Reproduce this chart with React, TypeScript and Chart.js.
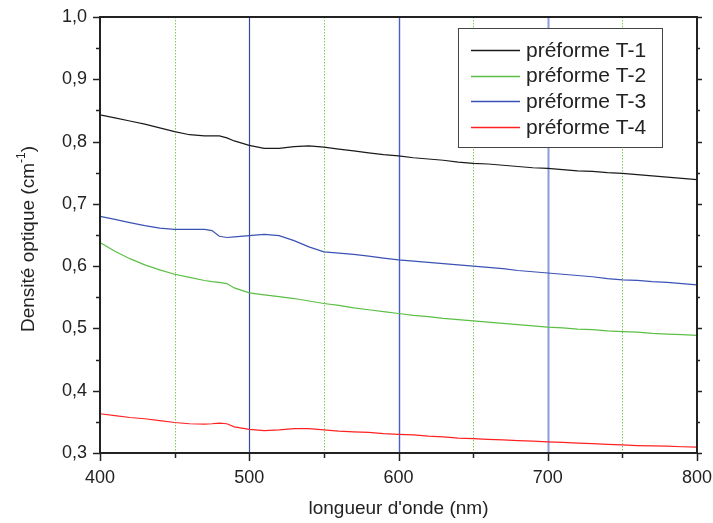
import React, { useEffect, useRef } from 'react';
import { Chart, registerables } from 'chart.js';

Chart.register(...registerables);

// ---- data ----
const wavelengths = [
  400, 410, 420, 430, 440, 450, 460, 470, 475, 480, 485, 490, 500, 510, 520, 530, 540, 550,
  560, 570, 580, 590, 600, 610, 620, 630, 640, 650, 660, 670, 680, 690, 700, 710, 720, 730,
  740, 750, 760, 770, 780, 790, 800,
];

const preformeT1 = [
  0.843, 0.838, 0.833, 0.828, 0.822, 0.816, 0.811, 0.809, 0.809, 0.809, 0.806, 0.801, 0.794,
  0.789, 0.789, 0.792, 0.793, 0.791, 0.788, 0.785, 0.782, 0.779, 0.777, 0.774, 0.772, 0.770,
  0.767, 0.765, 0.764, 0.762, 0.760, 0.758, 0.757, 0.755, 0.753, 0.752, 0.750, 0.749, 0.747,
  0.745, 0.743, 0.741, 0.739,
];

const preformeT2 = [
  0.638, 0.624, 0.612, 0.602, 0.594, 0.587, 0.582, 0.577, 0.575, 0.574, 0.572, 0.565, 0.557,
  0.554, 0.551, 0.548, 0.544, 0.540, 0.537, 0.533, 0.530, 0.527, 0.524, 0.521, 0.519, 0.516,
  0.514, 0.512, 0.510, 0.508, 0.506, 0.504, 0.502, 0.501, 0.499, 0.498, 0.496, 0.495, 0.494,
  0.492, 0.491, 0.490, 0.489,
];

const preformeT3 = [
  0.680, 0.675, 0.670, 0.665, 0.661, 0.659, 0.659, 0.659, 0.657, 0.648, 0.646, 0.647, 0.649,
  0.651, 0.649, 0.641, 0.631, 0.623, 0.621, 0.619, 0.616, 0.613, 0.610, 0.608, 0.606, 0.604,
  0.602, 0.600, 0.598, 0.596, 0.593, 0.591, 0.589, 0.587, 0.585, 0.583, 0.580, 0.578, 0.577,
  0.575, 0.574, 0.572, 0.570,
];

const preformeT4 = [
  0.363, 0.360, 0.357, 0.355, 0.352, 0.349, 0.347, 0.3465, 0.347, 0.348, 0.347, 0.342, 0.338,
  0.336, 0.337, 0.339, 0.339, 0.337, 0.335, 0.334, 0.333, 0.331, 0.330, 0.329, 0.327, 0.326,
  0.324, 0.323, 0.322, 0.321, 0.320, 0.319, 0.318, 0.317, 0.316, 0.315, 0.314, 0.313, 0.312,
  0.3115, 0.311, 0.310, 0.3095,
];

const seriesLabels = ['préforme T-1', 'préforme T-2', 'préforme T-3', 'préforme T-4'];
const xMajorTicks = [400, 500, 600, 700, 800];
const xMinorTicks = [450, 550, 650, 750];
const yMajorTicks = [0.3, 0.4, 0.5, 0.6, 0.7, 0.8, 0.9, 1.0];
const yMinorTicks = [0.35, 0.45, 0.55, 0.65, 0.75, 0.85, 0.95];
const solidRefLines = [500, 600, 700];
const dottedRefLines = [450, 550, 650, 750];
const xTitle = "longueur d'onde (nm)";
const yTitleMain = 'Densité optique (cm';
const yTitleSup = '-1';
const yTitleEnd = ')';

// ---- styles ----
const FONT = 'Arial, "Liberation Sans", Helvetica, sans-serif';
const seriesColors = ['#1a1a1a', '#5cbf45', '#3a52b4', '#ff2222'];
const solidRefColors = ['#3547a4', '#4a60c4', '#8b9bdc'];
const solidRefWidths = [1.2, 1.4, 2];
const AXIS_COLOR = '#222';

const decorPlugin = {
  id: 'decor',
  beforeDatasetsDraw(chart: any) {
    const { ctx, chartArea: a, scales } = chart;
    const x = scales.x;
    ctx.save();
    ctx.strokeStyle = '#7ccc5c';
    ctx.lineWidth = 1;
    ctx.setLineDash([1.5, 1.5]);
    dottedRefLines.forEach((v) => {
      const px = Math.round(x.getPixelForValue(v)) + 0.5;
      ctx.beginPath();
      ctx.moveTo(px, a.top);
      ctx.lineTo(px, a.bottom);
      ctx.stroke();
    });
    ctx.setLineDash([]);
    solidRefLines.forEach((v, i) => {
      const px = Math.round(x.getPixelForValue(v)) + 0.5;
      ctx.strokeStyle = solidRefColors[i];
      ctx.lineWidth = solidRefWidths[i];
      ctx.beginPath();
      ctx.moveTo(px, a.top);
      ctx.lineTo(px, a.bottom);
      ctx.stroke();
    });
    ctx.restore();
  },
  afterDraw(chart: any) {
    const { ctx, chartArea: a, scales } = chart;
    const x = scales.x;
    const y = scales.y;
    ctx.save();

    // legend
    const lx = 458.5, ly = 28.5, lw = 204, lh = 119;
    ctx.setLineDash([]);
    ctx.fillStyle = '#fff';
    ctx.fillRect(lx, ly, lw, lh);
    ctx.strokeStyle = '#444';
    ctx.lineWidth = 1;
    ctx.strokeRect(lx, ly, lw, lh);
    ctx.font = `21px ${FONT}`;
    ctx.textBaseline = 'middle';
    ctx.textAlign = 'left';
    chart.data.datasets.forEach((ds: any, i: number) => {
      const cy = 50 + i * 25.6;
      ctx.strokeStyle = seriesColors[i];
      ctx.lineWidth = i === 1 ? 1.6 : 1.3;
      ctx.beginPath();
      ctx.moveTo(471, Math.round(cy) + 0.5);
      ctx.lineTo(520, Math.round(cy) + 0.5);
      ctx.stroke();
      ctx.fillStyle = '#222';
      ctx.fillText(ds.label, 526, cy + 1);
    });

    // frame
    ctx.strokeStyle = AXIS_COLOR;
    ctx.lineWidth = 2;
    ctx.strokeRect(a.left, a.top, a.right - a.left, a.bottom - a.top);

    // ticks
    ctx.lineWidth = 1.5;
    const tick = (x1: number, y1: number, x2: number, y2: number) => {
      ctx.beginPath();
      ctx.moveTo(x1, y1);
      ctx.lineTo(x2, y2);
      ctx.stroke();
    };
    xMajorTicks.forEach((v) => {
      const px = Math.round(x.getPixelForValue(v)) + 0.5;
      tick(px, a.bottom, px, a.bottom + 8);
    });
    xMinorTicks.forEach((v) => {
      const px = Math.round(x.getPixelForValue(v)) + 0.5;
      tick(px, a.bottom, px, a.bottom + 5);
    });
    yMajorTicks.forEach((v) => {
      const py = Math.round(y.getPixelForValue(v)) + 0.5;
      tick(a.left - 7, py, a.left, py);
      tick(a.right, py, a.right + 5, py);
    });
    yMinorTicks.forEach((v) => {
      const py = Math.round(y.getPixelForValue(v)) + 0.5;
      tick(a.left - 4, py, a.left, py);
      tick(a.right, py, a.right + 3, py);
    });

    // x title
    ctx.fillStyle = '#222';
    ctx.font = `19px ${FONT}`;
    ctx.textAlign = 'center';
    ctx.textBaseline = 'middle';
    ctx.fillText(xTitle, (a.left + a.right) / 2, 509);

    // y title with superscript
    ctx.save();
    ctx.translate(29, 239);
    ctx.rotate(-Math.PI / 2);
    ctx.textAlign = 'left';
    ctx.textBaseline = 'middle';
    ctx.font = `19px ${FONT}`;
    const w1 = ctx.measureText(yTitleMain).width;
    const w3 = ctx.measureText(yTitleEnd).width;
    ctx.font = `12px ${FONT}`;
    const w2 = ctx.measureText(yTitleSup).width;
    const total = w1 + w2 + w3;
    let cx = -total / 2;
    ctx.font = `19px ${FONT}`;
    ctx.fillText(yTitleMain, cx, 0);
    cx += w1;
    ctx.font = `12px ${FONT}`;
    ctx.fillText(yTitleSup, cx, -7);
    cx += w2;
    ctx.font = `19px ${FONT}`;
    ctx.fillText(yTitleEnd, cx, 0);
    ctx.restore();

    ctx.restore();
  },
};

const noPad = (scale: any) => {
  scale.paddingTop = 0;
  scale.paddingBottom = 0;
  scale.paddingLeft = 0;
  scale.paddingRight = 0;
};

export default function App() {
  const canvasRef = useRef<HTMLCanvasElement | null>(null);

  useEffect(() => {
    if (!canvasRef.current) return;
    const seriesValues = [preformeT1, preformeT2, preformeT3, preformeT4];
    const chart = new Chart(canvasRef.current, {
      type: 'line',
      data: {
        datasets: seriesValues.map((vals, i) => ({
          label: seriesLabels[i],
          data: wavelengths.map((w, j) => ({ x: w, y: vals[j] })),
          borderColor: seriesColors[i],
          backgroundColor: seriesColors[i],
          borderWidth: 1.2,
          pointRadius: 0,
          tension: 0,
          fill: false,
        })),
      },
      options: {
        responsive: false,
        animation: false,
        layout: { padding: { top: 17, right: 16, left: 0, bottom: 0 } },
        plugins: {
          legend: { display: false },
          tooltip: { enabled: false },
        },
        scales: {
          x: {
            type: 'linear',
            min: 400,
            max: 800,
            grid: { display: false, drawTicks: false },
            border: { display: false },
            ticks: {
              stepSize: 100,
              padding: 14,
              color: '#222',
              font: { family: FONT, size: 18 },
              maxRotation: 0,
            },
            afterFit: (scale: any) => {
              scale.height = 70;
              noPad(scale);
            },
          },
          y: {
            type: 'linear',
            min: 0.3,
            max: 1.0,
            grid: { display: false, drawTicks: false },
            border: { display: false },
            ticks: {
              stepSize: 0.1,
              padding: 13,
              color: '#222',
              font: { family: FONT, size: 18 },
              callback: (v: any) => Number(v).toFixed(1).replace('.', ','),
            },
            afterFit: (scale: any) => {
              scale.width = 100;
              noPad(scale);
            },
          },
        },
      },
      plugins: [decorPlugin],
    } as any);
    return () => chart.destroy();
  }, []);

  return (
    <div style={{ position: 'absolute', left: 0, top: 0, width: 713, height: 523, background: '#fff' }}>
      <canvas ref={canvasRef} width={713} height={523} />
    </div>
  );
}
